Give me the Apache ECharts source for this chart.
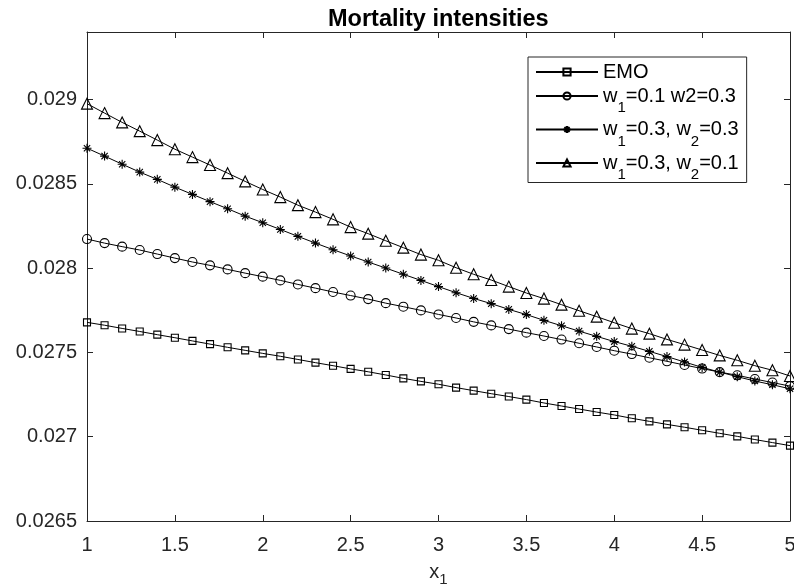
<!DOCTYPE html>
<html>
<head>
<meta charset="utf-8">
<script src="https://cdn.jsdelivr.net/npm/echarts@6/dist/echarts.min.js"></script>
<style>
  html, body { margin: 0; padding: 0; background: #fff; }
  #chart { width: 794px; height: 587px; }
</style>
</head>
<body>
<div id="chart"></div>
<script>
// x1 values, one marker every 0.1
const xs = [1.0, 1.1, 1.2, 1.3, 1.4, 1.5, 1.6, 1.7, 1.8, 1.9, 2.0, 2.1, 2.2, 2.3, 2.4, 2.5, 2.6, 2.7, 2.8, 2.9,
  3.0, 3.1, 3.2, 3.3, 3.4, 3.5, 3.6, 3.7, 3.8, 3.9, 4.0, 4.1, 4.2, 4.3, 4.4, 4.5, 4.6, 4.7, 4.8, 4.9, 5.0];

const emo = [0.027678, 0.027661, 0.027642, 0.027624, 0.027605, 0.027587, 0.027568, 0.027549, 0.027530, 0.027512,
  0.027494, 0.027477, 0.027458, 0.027439, 0.027421, 0.027402, 0.027385, 0.027366, 0.027346, 0.027328,
  0.027311, 0.027291, 0.027273, 0.027255, 0.027238, 0.027220, 0.027200, 0.027182, 0.027164, 0.027146,
  0.027129, 0.027109, 0.027091, 0.027073, 0.027056, 0.027038, 0.027020, 0.027002, 0.026983, 0.026965, 0.026947];

const w01w03 = [0.028172, 0.028148, 0.028127, 0.028107, 0.028083, 0.028059, 0.028036, 0.028016, 0.027992, 0.027970,
  0.027949, 0.027927, 0.027903, 0.027881, 0.027858, 0.027837, 0.027816, 0.027792, 0.027771, 0.027749,
  0.027725, 0.027704, 0.027681, 0.027660, 0.027638, 0.027617, 0.027597, 0.027576, 0.027554, 0.027532,
  0.027510, 0.027490, 0.027468, 0.027447, 0.027425, 0.027404, 0.027383, 0.027364, 0.027342, 0.027321, 0.027300];

const w03w03 = [0.028711, 0.028664, 0.028616, 0.028569, 0.028526, 0.028480, 0.028437, 0.028394, 0.028352, 0.028308,
  0.028269, 0.028229, 0.028188, 0.028148, 0.028109, 0.028072, 0.028036, 0.028000, 0.027963, 0.027927,
  0.027890, 0.027854, 0.027820, 0.027789, 0.027755, 0.027724, 0.027690, 0.027658, 0.027626, 0.027595,
  0.027564, 0.027536, 0.027506, 0.027475, 0.027443, 0.027411, 0.027383, 0.027356, 0.027330, 0.027308, 0.027284];

const w03w01 = [0.028975, 0.028919, 0.028864, 0.028812, 0.028759, 0.028705, 0.028658, 0.028611, 0.028563, 0.028514,
  0.028466, 0.028421, 0.028373, 0.028332, 0.028289, 0.028243, 0.028204, 0.028162, 0.028121, 0.028080,
  0.028046, 0.028002, 0.027963, 0.027929, 0.027890, 0.027852, 0.027819, 0.027783, 0.027747, 0.027712,
  0.027676, 0.027641, 0.027611, 0.027577, 0.027546, 0.027514, 0.027482, 0.027453, 0.027421, 0.027394, 0.027360];

const names = ['EMO', 'w1=0.1 w2=0.3', 'w1=0.3, w2=0.3', 'w1=0.3, w2=0.1'];
const legendText = {
  'EMO': '{n|EMO}',
  'w1=0.1 w2=0.3': '{n|w}{s|1}{n|=0.1 w2=0.3}',
  'w1=0.3, w2=0.3': '{n|w}{s|1}{n|=0.3, w}{s|2}{n|=0.3}',
  'w1=0.3, w2=0.1': '{n|w}{s|1}{n|=0.3, w}{s|2}{n|=0.1}'
};

const font = 'Liberation Sans, Arial, Helvetica, sans-serif';
const axisGray = '#262626';
const starPath = 'path://M5 0L5 10M0 5L10 5M1.5 1.5L8.5 8.5M1.5 8.5L8.5 1.5';

function pairs(ys) {
  return xs.map((x, i) => [x, ys[i]]);
}

function makeSeries(name, ys, symbol, size) {
  return {
    name: name,
    type: 'line',
    data: pairs(ys),
    symbol: symbol,
    symbolSize: size,
    showAllSymbol: true,
    lineStyle: { color: '#000', width: 1 },
    itemStyle: { color: 'none', borderColor: '#000', borderWidth: 1.1 },
    emphasis: { disabled: true },
    animation: false
  };
}

const chart = echarts.init(document.getElementById('chart'), null, { renderer: 'canvas' });

const tickLabel = { fontFamily: font, fontSize: 20, color: axisGray };

chart.setOption({
  backgroundColor: '#fff',
  animation: false,
  title: {
    text: 'Mortality intensities',
    left: 323,
    top: 3,
    textStyle: { fontFamily: font, fontSize: 23.5, fontWeight: 'bold', color: '#000' }
  },
  grid: { left: 87, right: 4, top: 32, bottom: 66, containLabel: false, outerBoundsMode: 'none' },
  legend: {
    orient: 'vertical',
    left: 528,
    top: 57,
    padding: [5, 8, 0, 7],
    itemGap: 4,
    itemWidth: 62,
    itemHeight: 9,
    borderColor: axisGray,
    borderWidth: 1,
    backgroundColor: '#fff',
    data: names,
    formatter: (name) => legendText[name],
    textStyle: {
      fontFamily: font,
      fontSize: 20,
      color: '#000',
      rich: {
        n: { fontFamily: font, fontSize: 20, color: '#000' },
        s: { fontFamily: font, fontSize: 15, color: '#000', padding: [24, 0, 0, 0] }
      }
    }
  },
  xAxis: [
    {
      type: 'value', min: 1, max: 5, interval: 0.5,
      name: '{a|x}{b|1}',
      nameLocation: 'middle',
      nameGap: 36,
      nameTextStyle: {
        rich: {
          a: { fontFamily: font, fontSize: 20, color: axisGray, lineHeight: 30 },
          b: { fontFamily: font, fontSize: 15, color: axisGray, lineHeight: 12, verticalAlign: 'bottom' }
        }
      },
      axisLine: { lineStyle: { color: axisGray, width: 1 } },
      axisTick: { inside: true, length: 6, lineStyle: { color: axisGray } },
      axisLabel: Object.assign({ margin: 14 }, tickLabel),
      splitLine: { show: false }
    },
    {
      type: 'value', min: 1, max: 5, interval: 0.5, position: 'top',
      axisLine: { lineStyle: { color: axisGray, width: 1 } },
      axisTick: { inside: true, length: 6, lineStyle: { color: axisGray } },
      axisLabel: { show: false },
      splitLine: { show: false }
    }
  ],
  yAxis: [
    {
      type: 'value', min: 0.0265, max: 0.0294, interval: 0.0005,
      axisLine: { show: true, lineStyle: { color: axisGray, width: 1 } },
      axisTick: { show: true, inside: true, length: 6, lineStyle: { color: axisGray } },
      axisLabel: Object.assign({
        margin: 10,
        showMaxLabel: false,
        formatter: (v) => String(Number(v.toFixed(4)))
      }, tickLabel),
      splitLine: { show: false }
    },
    {
      type: 'value', min: 0.0265, max: 0.0294, interval: 0.0005, position: 'right',
      axisLine: { show: true, lineStyle: { color: axisGray, width: 1 } },
      axisTick: { show: true, inside: true, length: 6, lineStyle: { color: axisGray } },
      axisLabel: { show: false },
      splitLine: { show: false }
    }
  ],
  series: [
    makeSeries(names[0], emo, 'rect', 7),
    makeSeries(names[1], w01w03, 'circle', 9),
    makeSeries(names[2], w03w03, starPath, 9),
    makeSeries(names[3], w03w01, 'triangle', 11)
  ]
});
</script>
</body>
</html>
